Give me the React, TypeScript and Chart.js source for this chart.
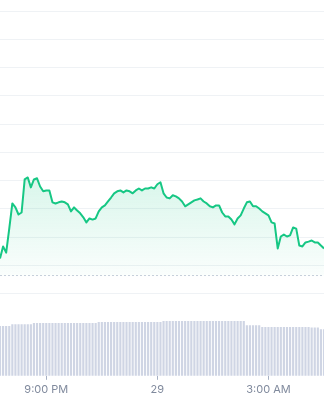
import React, { useEffect, useRef } from "react";
import { Chart, registerables } from "chart.js";

Chart.register(...registerables);

// 5-minute steps starting 7:45 PM (index 0) .. 4:30 AM (index 105)
const prices: number[] = [
  12.4, 16.7, 14.5, 23.0, 31.9, 30.5, 28.0, 28.7, 40.4, 41.1,
  37.6, 40.4, 40.8, 37.9, 36.2, 36.5, 36.5, 32.3, 31.9, 32.3,
  32.6, 32.3, 31.6, 29.1, 30.5, 29.4, 28.4, 27.0, 25.2, 26.6,
  26.2, 26.6, 29.1, 30.5, 31.2, 32.6, 34.0, 35.5, 36.2, 36.5,
  35.8, 36.5, 36.2, 35.5, 36.5, 37.2, 36.5, 37.2, 37.2, 37.6,
  37.2, 38.7, 39.4, 35.5, 34.0, 33.7, 34.8, 34.4, 33.7, 32.6,
  30.9, 31.6, 32.3, 33.0, 33.3, 33.7, 32.6, 31.9, 30.9, 30.5,
  31.2, 31.2, 28.7, 27.3, 27.3, 26.2, 24.5, 26.6, 27.7, 30.1,
  32.3, 32.6, 30.9, 30.9, 30.1, 29.1, 28.4, 27.7, 25.2, 24.8,
  16.0, 20.2, 20.9, 20.2, 20.6, 23.4, 23.0, 17.0, 16.7, 18.1,
  18.4, 18.8, 18.1, 18.1, 17.0, 16.0,
];

const volumes: number[] = [
  60.1, 60.1, 60.1, 60.1, 62.2, 62.2, 62.2, 62.2, 62.2, 62.2,
  62.2, 63.8, 63.8, 63.8, 63.8, 63.8, 63.8, 63.8, 63.8, 63.8,
  63.8, 63.8, 63.8, 63.8, 63.8, 63.8, 63.8, 63.8, 63.8, 63.8,
  63.8, 63.8, 65.0, 65.0, 65.0, 65.0, 65.0, 65.0, 65.0, 65.0,
  65.0, 65.0, 65.0, 65.0, 65.0, 65.0, 65.0, 65.0, 65.0, 65.0,
  65.0, 65.0, 65.0, 66.2, 66.2, 66.2, 66.2, 66.2, 66.2, 66.2,
  66.2, 66.2, 66.2, 66.2, 66.2, 66.2, 66.2, 66.2, 66.2, 66.2,
  66.2, 66.2, 66.2, 66.2, 66.2, 66.2, 66.2, 66.2, 66.2, 66.2,
  61.0, 61.0, 61.0, 61.0, 61.0, 58.9, 58.9, 58.9, 58.9, 58.9,
  58.9, 58.9, 58.9, 58.9, 58.9, 58.9, 58.9, 58.9, 58.9, 58.9,
  58.9, 58.5, 58.5, 58.5, 56.1, 56.1,
];

const openPrice = 6.4;
const tickPositions: number[] = [15, 51, 87];
const tickLabels: string[] = ["9:00 PM", "29", "3:00 AM"];

export default function App() {
  const ref = useRef<HTMLCanvasElement | null>(null);

  useEffect(() => {
    document.body.style.margin = "0";
    const canvas = ref.current;
    if (!canvas) return;
    const idx = prices.map((_, i) => i);

    const chart = new Chart(canvas, {
      type: "line",
      data: {
        datasets: [
          {
            type: "line",
            data: idx.map((i) => ({ x: i, y: prices[i] })),
            yAxisID: "y",
            borderColor: "#16c784",
            borderWidth: 2,
            pointRadius: 0,
            tension: 0,
            borderJoinStyle: "round",
            fill: { value: openPrice },
            backgroundColor: (ctx: any) => {
              const { chart } = ctx;
              const area = chart.chartArea;
              if (!area) return "rgba(22,199,132,0.1)";
              const ys = chart.scales.y;
              const top = ys.getPixelForValue(42);
              const bottom = ys.getPixelForValue(openPrice);
              const g = chart.ctx.createLinearGradient(0, top, 0, bottom);
              g.addColorStop(0, "rgba(22,199,132,0.17)");
              g.addColorStop(1, "rgba(22,199,132,0.02)");
              return g;
            },
            order: 1,
          },
          {
            type: "line",
            data: [
              { x: 0, y: openPrice },
              { x: 105, y: openPrice },
            ],
            yAxisID: "y",
            borderColor: "#c8cfdb",
            borderWidth: 1,
            borderDash: [2, 2],
            pointRadius: 0,
            fill: false,
            order: 2,
          },
          {
            type: "bar",
            data: idx.map((i) => ({ x: i, y: volumes[i] })),
            yAxisID: "yv",
            backgroundColor: "#cfd5e4",
            barThickness: 1.5,
            borderWidth: 0,
            order: 3,
          },
        ],
      },
      options: {
        responsive: false,
        animation: false,
        events: [],
        layout: { padding: { top: 11, left: 0, right: 0, bottom: 1 } },
        plugins: { legend: { display: false }, tooltip: { enabled: false } },
        scales: {
          x: {
            type: "linear",
            min: 0,
            max: 105,
            offset: false,
            border: { display: false },
            grid: {
              offset: false,
              drawOnChartArea: false,
              drawTicks: true,
              tickLength: 4,
              tickColor: "#a6b0c3",
            },
            afterBuildTicks: (axis: any) => {
              axis.ticks = tickPositions.map((v) => ({ value: v }));
            },
            ticks: {
              autoSkip: false,
              maxRotation: 0,
              padding: 3,
              color: "#808a9d",
              font: { family: "Inter, sans-serif", size: 11 },
              callback: (_v: any, i: number) => tickLabels[i],
            },
          },
          yv: {
            type: "linear",
            position: "left",
            stack: "s",
            stackWeight: 82,
            min: 0,
            max: 100,
            border: { display: false },
            grid: { display: false, drawTicks: false },
            ticks: { display: false },
          },
          y: {
            type: "linear",
            position: "left",
            stack: "s",
            stackWeight: 282,
            min: 0,
            max: 100,
            border: { display: false },
            grid: { color: "#eff2f5", drawTicks: false, lineWidth: 1 },
            ticks: { display: false, stepSize: 10 },
          },
        },
      },
    } as any);
    return () => chart.destroy();
  }, []);

  return (
    <div style={{ position: "absolute", left: 0, top: 0, width: 324, height: 400 }}>
      <canvas ref={ref} width={324} height={400} style={{ display: "block" }} />
    </div>
  );
}
